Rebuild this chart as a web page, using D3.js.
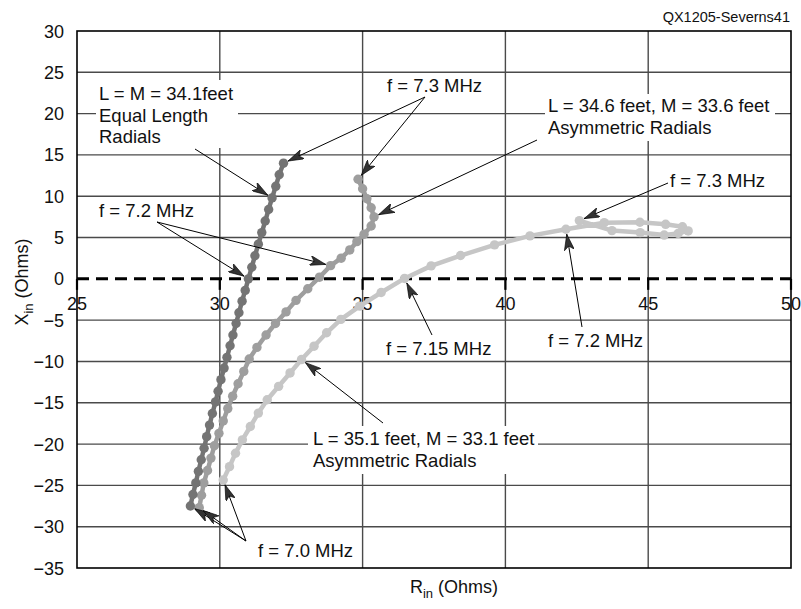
<!DOCTYPE html>
<html>
<head>
<meta charset="utf-8">
<script src="https://cdn.jsdelivr.net/npm/d3@7"></script>
<style>
  body { margin: 0; background: #fff; }
  text { font-family: "Liberation Sans", Arial, Helvetica, sans-serif; fill: #111; }
</style>
</head>
<body>
<svg id="chart" width="801" height="609"></svg>
<script>
// Frequency sweep, MHz
const freqs = [7.00, 7.01, 7.02, 7.03, 7.04, 7.05, 7.06, 7.07, 7.08, 7.09, 7.10,
               7.11, 7.12, 7.13, 7.14, 7.15, 7.16, 7.17, 7.18, 7.19, 7.20,
               7.21, 7.22, 7.23, 7.24, 7.25, 7.26, 7.27, 7.28, 7.29, 7.30];

// L = M = 34.1 feet, equal length radials
const equalR = [28.97, 29.06, 29.16, 29.25, 29.35, 29.45, 29.54, 29.64, 29.74, 29.85, 29.94,
                30.04, 30.15, 30.25, 30.36, 30.46, 30.57, 30.67, 30.78, 30.89, 31.00,
                31.12, 31.23, 31.35, 31.47, 31.59, 31.71, 31.83, 31.96, 32.08, 32.23];
const equalX = [-27.5, -26.1, -24.7, -23.3, -21.9, -20.5, -19.1, -17.7, -16.3, -14.9, -13.6,
                -12.2, -10.8, -9.5, -8.1, -6.8, -5.4, -4.1, -2.7, -1.4, 0.0,
                1.4, 2.8, 4.2, 5.6, 7.0, 8.4, 9.8, 11.2, 12.6, 14.0];

// L = 34.6 feet, M = 33.6 feet, asymmetric radials
const asymAR = [29.28, 29.36, 29.44, 29.57, 29.69, 29.81, 29.97, 30.12, 30.28, 30.45, 30.64,
                30.84, 31.03, 31.30, 31.62, 31.95, 32.32, 32.67, 33.08, 33.49, 33.88,
                34.25, 34.55, 34.80, 35.05, 35.30, 35.40, 35.30, 35.15, 35.00, 34.84];
const asymAX = [-27.7, -26.2, -24.7, -23.2, -21.7, -20.2, -18.7, -17.2, -15.7, -14.2, -12.7,
                -11.2, -9.7, -8.3, -6.8, -5.4, -4.0, -2.6, -1.2, 0.2, 1.6,
                2.5, 3.5, 4.5, 5.4, 6.4, 7.5, 8.6, 9.7, 10.9, 12.05];

// L = 35.1 feet, M = 33.1 feet, asymmetric radials
const asymBR = [30.12, 30.34, 30.55, 30.79, 31.07, 31.35, 31.66, 32.06, 32.46, 32.86, 33.30,
                33.74, 34.24, 34.90, 35.65, 36.47, 37.40, 38.43, 39.62, 40.86, 42.12,
                43.46, 44.71, 45.61, 46.20, 46.40, 46.05, 45.56, 44.72, 43.73, 42.59];
const asymBX = [-24.35, -22.73, -21.11, -19.49, -17.87, -16.25, -14.63, -13.01, -11.39, -9.77, -8.15,
                -6.53, -4.91, -3.30, -1.65, 0.05, 1.57, 2.82, 4.11, 5.20, 6.00,
                6.80, 6.85, 6.60, 6.30, 5.80, 5.50, 5.30, 5.60, 5.84, 7.05];

const xTicks = [25, 30, 35, 40, 45, 50];
const yTicks = [30, 25, 20, 15, 10, 5, 0, -5, -10, -15, -20, -25, -30, -35];

const svg = d3.select("#chart");
const x = d3.scaleLinear().domain([25, 50]).range([77, 791]);
const y = d3.scaleLinear().domain([-35, 30]).range([568, 31]);
const fmt = d3.format("d");

const zip = (r, xs) => r.map((v, i) => ({ r: v, x: xs[i], f: freqs[i] }));
const series = {
  equal: { pts: zip(equalR, equalX), color: "#747474" },
  asymA: { pts: zip(asymAR, asymAX), color: "#9e9e9e" },
  asymB: { pts: zip(asymBR, asymBX), color: "#c6c6c6" }
};

// Grid
const grid = svg.append("g");
grid.selectAll("line.h").data(yTicks.filter(v => v !== 0 && v > -35 && v < 30)).join("line")
  .attr("class", "h")
  .attr("x1", x(25)).attr("x2", x(50))
  .attr("y1", d => y(d)).attr("y2", d => y(d))
  .attr("stroke", "#4a4a4a").attr("stroke-width", 1.4);
grid.selectAll("line.v").data(xTicks.filter(v => v > 25 && v < 50)).join("line")
  .attr("class", "v")
  .attr("x1", d => x(d)).attr("x2", d => x(d))
  .attr("y1", y(30)).attr("y2", y(-35))
  .attr("stroke", "#4a4a4a").attr("stroke-width", 1.4);

// White panels behind the multi-line captions
const panels = [
  { x: 96, y: 80, w: 142, h: 68 },
  { x: 545, y: 94, w: 230, h: 47 },
  { x: 308, y: 426, w: 230, h: 48 }
];
svg.append("g").selectAll("rect").data(panels).join("rect")
  .attr("x", d => d.x).attr("y", d => d.y).attr("width", d => d.w).attr("height", d => d.h)
  .attr("fill", "#fff");

// Zero-reactance line
svg.append("line")
  .attr("x1", x(25)).attr("x2", x(50)).attr("y1", y(0)).attr("y2", y(0))
  .attr("stroke", "#000").attr("stroke-width", 3).attr("stroke-dasharray", "12,7");

// R axis ticks and labels along X = 0
const xa = svg.append("g");
xa.selectAll("line").data(xTicks).join("line")
  .attr("x1", d => x(d)).attr("x2", d => x(d))
  .attr("y1", y(0)).attr("y2", y(0) + 11)
  .attr("stroke", "#000").attr("stroke-width", 2.2);
xa.selectAll("text").data(xTicks).join("text")
  .attr("x", d => x(d)).attr("y", y(0) + 31)
  .attr("text-anchor", "middle").attr("font-size", 18)
  .text(d => fmt(d));

// X axis tick labels
svg.append("g").selectAll("text").data(yTicks).join("text")
  .attr("x", 64).attr("y", d => y(d) + 6.5)
  .attr("text-anchor", "end").attr("font-size", 18)
  .text(d => fmt(d));

// Curves
const line = d3.line().x(d => x(d.r)).y(d => y(d.x));
for (const key of ["asymB", "asymA", "equal"]) {
  const s = series[key];
  const g = svg.append("g");
  g.append("path").datum(s.pts).attr("d", line)
    .attr("fill", "none").attr("stroke", s.color).attr("stroke-width", 4.5)
    .attr("stroke-linejoin", "round");
  g.selectAll("circle").data(s.pts).join("circle")
    .attr("cx", d => x(d.r)).attr("cy", d => y(d.x)).attr("r", 4.7)
    .attr("fill", s.color);
}

// Frame
svg.append("rect")
  .attr("x", x(25)).attr("y", y(30))
  .attr("width", x(50) - x(25)).attr("height", y(-35) - y(30))
  .attr("fill", "none").attr("stroke", "#000").attr("stroke-width", 1.6);

// Arrow heads
svg.append("defs").append("marker")
  .attr("id", "head").attr("viewBox", "0 0 16 10")
  .attr("refX", 16).attr("refY", 5)
  .attr("markerWidth", 16).attr("markerHeight", 10)
  .attr("markerUnits", "userSpaceOnUse").attr("orient", "auto")
  .append("path").attr("d", "M0,0 L16,5 L0,10 L4,5 Z")
  .attr("fill", "#333").attr("stroke", "#000").attr("stroke-width", 0.6);

// Callouts: start point of the leader and the curve point it marks
const callouts = [
  { from: [195, 149], to: ["equal", 27] },
  { from: [425, 97], to: ["equal", 30] },
  { from: [425, 97], to: ["asymA", 30] },
  { from: [537, 140], to: ["asymA", 26] },
  { from: [157, 222], to: ["equal", 20] },
  { from: [157, 222], to: ["asymA", 20] },
  { from: [668, 183], to: ["asymB", 30] },
  { from: [582, 327], to: ["asymB", 20] },
  { from: [432, 335], to: ["asymB", 15] },
  { from: [383, 423], to: ["asymB", 9] },
  { from: [246, 541], to: ["equal", 0] },
  { from: [246, 541], to: ["asymA", 0] },
  { from: [246, 541], to: ["asymB", 0] }
];
svg.append("g").selectAll("line").data(callouts).join("line")
  .each(function (d) {
    const p = series[d.to[0]].pts[d.to[1]];
    const tx = x(p.r), ty = y(p.x);
    const dx = tx - d.from[0], dy = ty - d.from[1];
    const L = Math.hypot(dx, dy);
    d3.select(this)
      .attr("x1", d.from[0]).attr("y1", d.from[1])
      .attr("x2", tx - dx / L * 5).attr("y2", ty - dy / L * 5);
  })
  .attr("stroke", "#000").attr("stroke-width", 1)
  .attr("marker-end", "url(#head)");

// Caption text
const captions = [
  { x: 99, y: 100, t: "L = M = 34.1feet" },
  { x: 99, y: 122, t: "Equal Length" },
  { x: 99, y: 143, t: "Radials" },
  { x: 387, y: 92, t: "f = 7.3 MHz" },
  { x: 548, y: 112, t: "L = 34.6 feet, M = 33.6 feet" },
  { x: 548, y: 134, t: "Asymmetric Radials" },
  { x: 99, y: 217, t: "f = 7.2 MHz" },
  { x: 670, y: 187, t: "f = 7.3 MHz" },
  { x: 548, y: 347, t: "f = 7.2 MHz" },
  { x: 386, y: 355, t: "f = 7.15 MHz" },
  { x: 313, y: 445, t: "L = 35.1 feet, M = 33.1 feet" },
  { x: 313, y: 467, t: "Asymmetric Radials" },
  { x: 258, y: 557, t: "f = 7.0 MHz" }
];
svg.append("g").selectAll("text").data(captions).join("text")
  .attr("x", d => d.x).attr("y", d => d.y).attr("font-size", 18.5)
  .text(d => d.t);

// Figure id
svg.append("text").attr("x", 790).attr("y", 22).attr("text-anchor", "end")
  .attr("font-size", 14.5).text("QX1205-Severns41");

// Axis titles
const xt = svg.append("text").attr("x", 454).attr("y", 593)
  .attr("text-anchor", "middle").attr("font-size", 18);
xt.append("tspan").text("R");
xt.append("tspan").attr("font-size", 13).attr("dy", 5).text("in");
xt.append("tspan").attr("dy", -5).text(" (Ohms)");

const yt = svg.append("text").attr("transform", "translate(28,282) rotate(-90)")
  .attr("text-anchor", "middle").attr("font-size", 18);
yt.append("tspan").text("X");
yt.append("tspan").attr("font-size", 13).attr("dy", 5).text("in");
yt.append("tspan").attr("dy", -5).text(" (Ohms)");
</script>
</body>
</html>
